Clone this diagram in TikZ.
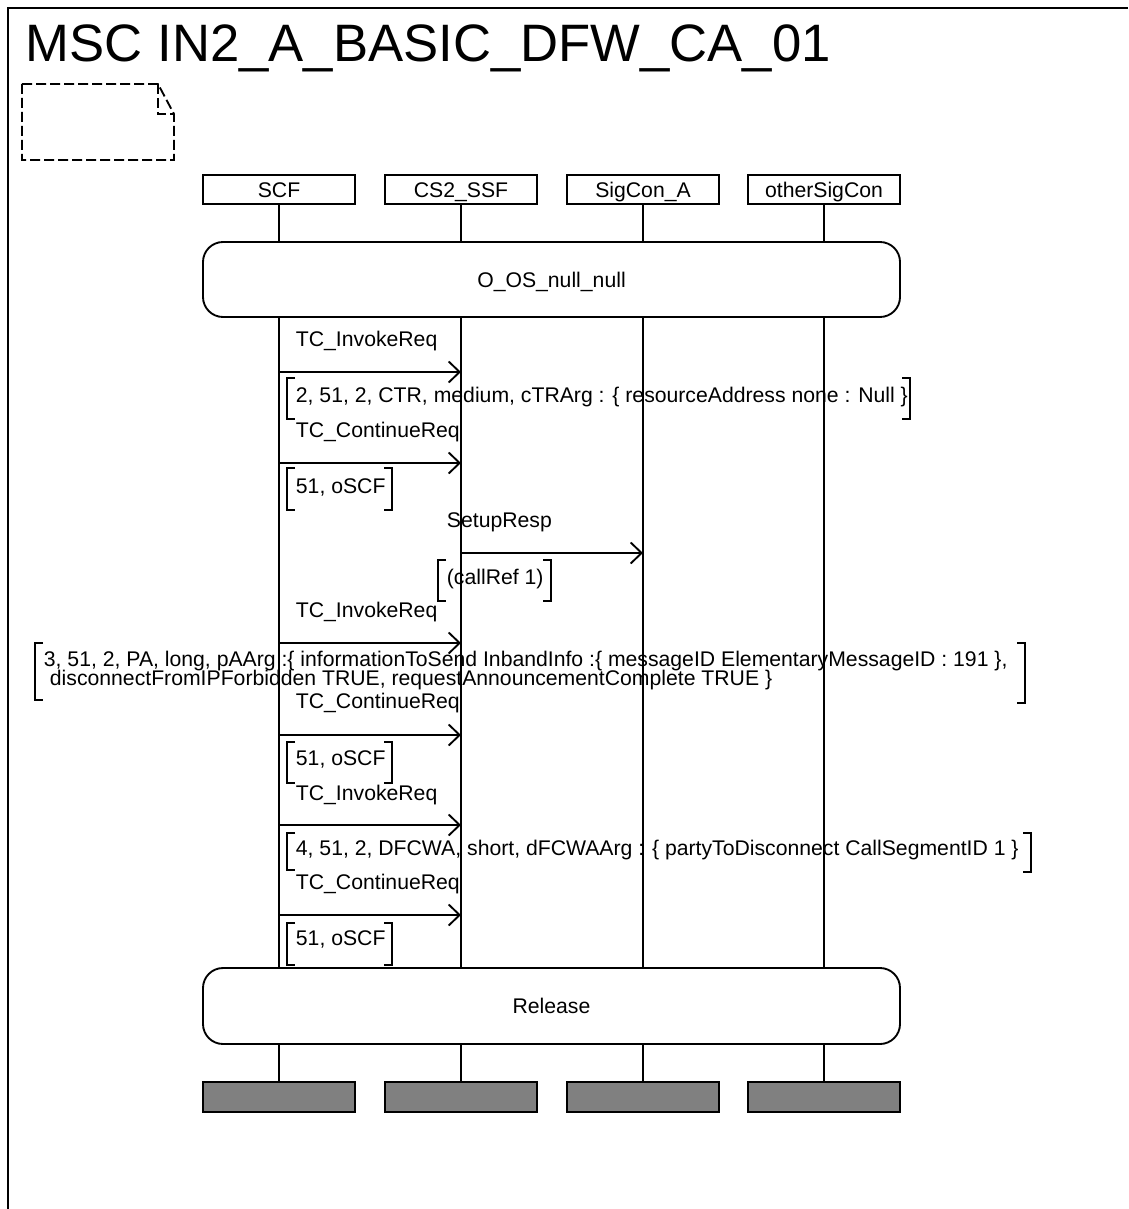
\documentclass[tikz,border=0pt]{standalone}
\usepackage{fontspec}
\setmainfont{Liberation Sans}
\usetikzlibrary{arrows.meta}
\definecolor{endgray}{RGB}{128,128,128}
\begin{document}
\begin{tikzpicture}[x=0.75pt,y=-0.75pt,line width=1.4pt,
  txt/.style={font=\fontsize{15.9}{16}\selectfont},
  lbl/.style={txt,inner sep=0pt,anchor=base west},
  inst/.style={txt,draw,fill=white,inner sep=0pt,text height=11.4pt,text depth=0pt,minimum width=114pt,minimum height=21.75pt},
  endbox/.style={draw,fill=endgray,inner sep=0pt,minimum width=114pt,minimum height=22.5pt},
  cond/.style={txt,draw,fill=white,rounded corners=15pt,inner sep=0pt,text height=11.4pt,text depth=0pt,minimum width=522.75pt},
  msg/.style={-{Straight Barb[length=8.25pt,width=15.75pt]}},
  brk/.style={line width=1.4pt},
  note/.style={dash pattern=on 7.5pt off 3pt,line width=1.4pt}]
\path[use as bounding box] (0,0) rectangle (1128,1209);
% frame
\draw (8,1209) -- (8,8) -- (1128,8);
\node[inner sep=0pt,anchor=base west,font=\fontsize{39.5}{40}\selectfont] (title) at (25,62) {MSC IN2\_A\_BASIC\_DFW\_CA\_01};
% comment
\draw[note] (22,84) -- (158,84) -- (174,114) -- (174,160) -- (22,160) -- cycle;
\draw[note] (158,84) -- (158,114) -- (174,114);
% instances
\node[inst] (scf) at (279,189.5) {SCF};
\node[inst] (ssf) at (461,189.5) {CS2\_SSF};
\node[inst] (sca) at (643,189.5) {SigCon\_A};
\node[inst] (osc) at (824,189.5) {otherSigCon};
% conditions
\node[cond,minimum height=56.25pt] (c1) at (551.5,279.5) {O\_OS\_null\_null};
\node[cond,minimum height=57pt] (c2) at (551.5,1006) {Release};
% end boxes
\node[endbox] (scfE) at (279,1097) {};
\node[endbox] (ssfE) at (461,1097) {};
\node[endbox] (scaE) at (643,1097) {};
\node[endbox] (oscE) at (824,1097) {};
% life lines
\foreach \i in {scf,ssf,sca,osc}{
  \draw (\i.south) -- (\i.south |- c1.north);
  \draw (\i.south |- c1.south) -- (\i.south |- c2.north);
  \draw (\i.south |- c2.south) -- (\i E.north);
}
% message coordinates
\foreach \n/\y in {1/372,2/463,4/643,5/735,6/825,7/915}{
  \coordinate (m\n a) at (scf.south |- 0,\y);
  \coordinate (m\n b) at (ssf.south |- 0,\y);
}
\coordinate (m3a) at (ssf.south |- 0,553);
\coordinate (m3b) at (sca.south |- 0,553);
\foreach \n in {1,...,7}{\draw[msg] (m\n a) -- (m\n b);}
% message labels
\node[lbl] (l1) at (295,346) {TC\_InvokeReq};
\node[lbl] (l2) at (295,437) {TC\_ContinueReq};
\node[lbl] (l3) at (446,527) {SetupResp};
\node[lbl] (l4) at (295,617) {TC\_InvokeReq};
\node[lbl] (l5) at (295,708) {TC\_ContinueReq};
\node[lbl] (l6) at (295,800) {TC\_InvokeReq};
\node[lbl] (l7) at (295,889) {TC\_ContinueReq};
% parameters
\node[lbl] (p1) at (295,402) {2, 51, 2, CTR, medium, cTRArg : \{ resourceAddress none : Null \}};
\draw[brk] (295,378) -| (287,419) -- (295,419);
\draw[brk] (902,378) -| (910,419) -- (902,419);
\node[lbl] (p2) at (295,493) {51, oSCF};
\draw[brk] (295,468) -| (287,510) -- (295,510);
\draw[brk] (384,468) -| (392,510) -- (384,510);
\node[lbl] (p3) at (446,584) {(callRef 1)};
\draw[brk] (446,560) -| (438,601) -- (446,601);
\draw[brk] (543,560) -| (551,601) -- (543,601);
\node[lbl] (p4a) at (43,666) {3, 51, 2, PA, long, pAArg :\{ informationToSend InbandInfo :\{ messageID ElementaryMessageID : 191 \},};
\node[lbl] (p4b) at (49,685) {disconnectFromIPForbidden TRUE, requestAnnouncementComplete TRUE \}};
\draw[brk] (43,643) -| (35,700) -- (43,700);
\draw[brk] (1017,643) -| (1025,703) -- (1017,703);
\node[lbl] (p5) at (295,765) {51, oSCF};
\draw[brk] (295,742) -| (287,783) -- (295,783);
\draw[brk] (384,742) -| (392,783) -- (384,783);
\node[lbl] (p6) at (295,855) {4, 51, 2, DFCWA, short, dFCWAArg : \{ partyToDisconnect CallSegmentID 1 \}};
\draw[brk] (295,833) -| (287,870) -- (295,870);
\draw[brk] (1023,833) -| (1031,872) -- (1023,872);
\node[lbl] (p7) at (295,945) {51, oSCF};
\draw[brk] (295,923) -| (287,965) -- (295,965);
\draw[brk] (384,923) -| (392,965) -- (384,965);
\end{tikzpicture}
\end{document}
